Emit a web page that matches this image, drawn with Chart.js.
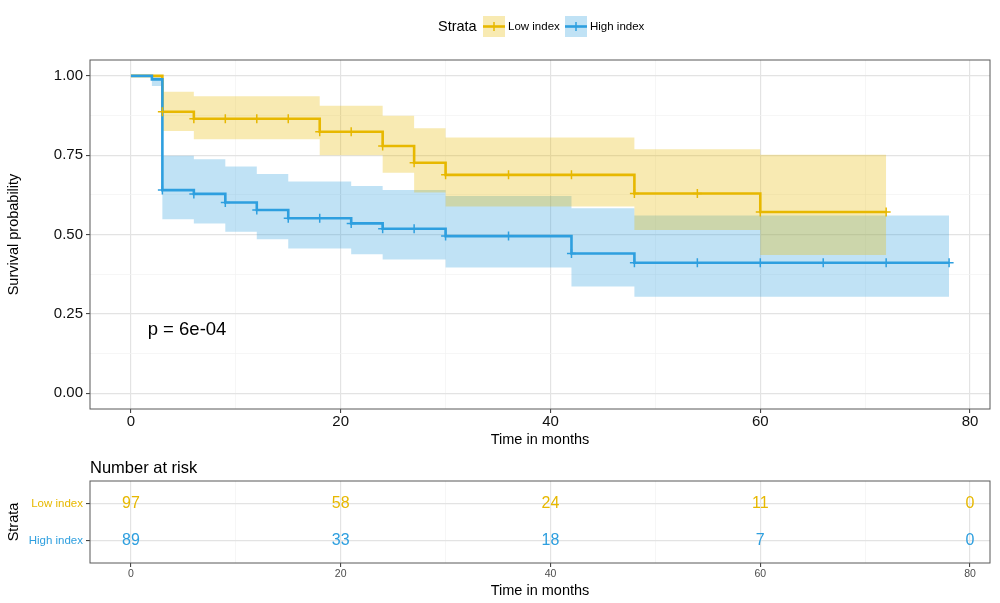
<!DOCTYPE html>
<html>
<head>
<meta charset="utf-8">
<title>Kaplan-Meier: Low index vs High index</title>
<script src="https://cdn.jsdelivr.net/npm/chart.js@4.4.1/dist/chart.umd.min.js"></script>
<style>
  html, body { margin: 0; padding: 0; background: #ffffff; }
  #wrap { position: relative; width: 1000px; height: 603px; }
  #kmChart { position: absolute; left: 0; top: 0; }
  #riskChart { position: absolute; left: 0; top: 455px; }
</style>
</head>
<body>
<div id="wrap">
  <canvas id="kmChart" width="1000" height="455"></canvas>
  <canvas id="riskChart" width="1000" height="148"></canvas>
</div>
<script>
// --- data ---
const strata = ['Low index', 'High index'];

// Low index: step times, survival, 95% CI
const lowTimes = [0, 3, 6, 18, 24, 27, 30, 48, 60, 72];
const lowSurv  = [1, 0.887, 0.865, 0.824, 0.779, 0.726, 0.688, 0.629, 0.571, 0.571];
const lowUpper = [1, 0.950, 0.936, 0.906, 0.874, 0.835, 0.806, 0.769, 0.751, 0.751];
const lowLower = [1, 0.826, 0.800, 0.750, 0.695, 0.632, 0.588, 0.514, 0.435, 0.435];
const lowCensor = [3, 6, 9, 12, 15, 18, 21, 24, 27, 30, 36, 42, 48, 54, 60, 72];

// High index
const highTimes = [0, 2, 3, 6, 9, 12, 15, 21, 24, 30, 42, 48, 78];
const highSurv  = [1, 0.989, 0.640, 0.628, 0.601, 0.577, 0.551, 0.535, 0.518, 0.495, 0.440, 0.411, 0.411];
const highUpper = [1, 1, 0.748, 0.737, 0.714, 0.691, 0.667, 0.653, 0.640, 0.621, 0.583, 0.560, 0.560];
const highLower = [1, 0.968, 0.548, 0.535, 0.509, 0.485, 0.456, 0.438, 0.421, 0.396, 0.336, 0.304, 0.304];
const highCensor = [3, 6, 9, 12, 15, 18, 21, 24, 27, 30, 36, 42, 48, 54, 60, 66, 72, 78];

// number at risk table
const riskTimes = [0, 20, 40, 60, 80];
const riskLow   = [97, 58, 24, 11, 0];
const riskHigh  = [89, 33, 18, 7, 0];

// ticks
const xTicks = [0, 10, 20, 30, 40, 50, 60, 70, 80];
const yTicks = [0, 0.125, 0.25, 0.375, 0.5, 0.625, 0.75, 0.875, 1];
const pValueText = 'p = 6e-04';

// --- styles ---
const GOLD = '#E7B800';
const BLUE = '#2E9FDF';
const GOLD_FILL = 'rgba(231, 184, 0, 0.3)';
const BLUE_FILL = 'rgba(46, 159, 223, 0.3)';
const FONT = "'Liberation Sans', Arial, Helvetica, sans-serif";

Chart.defaults.font.family = FONT;
Chart.defaults.color = '#000000';

function toPoints(times, vals) {
    return times.map((t, i) => ({ x: t, y: vals[i] }));
}

// value of the step curve at time t
function survAt(times, surv, t) {
    let v = surv[0];
    for (let i = 0; i < times.length; i++) {
        if (times[i] <= t) v = surv[i];
    }
    return v;
}

function bandLine(times, vals, color, fill) {
    return {
        data: toPoints(times, vals),
        stepped: 'before',
        borderWidth: 0,
        borderColor: 'rgba(0,0,0,0)',
        backgroundColor: color,
        pointRadius: 0,
        fill: fill,
        order: 10
    };
}

function curveLine(times, vals, color, order) {
    return {
        data: toPoints(times, vals),
        stepped: 'before',
        borderWidth: 2.6,
        borderColor: color,
        pointRadius: 0,
        fill: false,
        order: order
    };
}

function censorMarks(censor, times, surv, color, order) {
    return {
        data: censor.map(t => ({ x: t, y: survAt(times, surv, t) })),
        showLine: false,
        pointStyle: 'cross',
        pointRadius: 4.5,
        pointBorderWidth: 1.5,
        pointBorderColor: color,
        borderColor: color,
        fill: false,
        order: order
    };
}

const isMajorX = v => v % 20 === 0;
const isMajorY = v => Math.round(v * 8) % 2 === 0;

function gridOpts(isMajor) {
    return {
        color: c => (c.tick && isMajor(c.tick.value)) ? '#E3E3E3' : '#F2F2F2',
        lineWidth: c => (c.tick && isMajor(c.tick.value)) ? 1.2 : 0.7,
        tickColor: c => (c.tick && isMajor(c.tick.value)) ? '#333333' : 'rgba(0,0,0,0)',
        tickLength: 4,
        tickWidth: 1,
        drawTicks: true
    };
}

// panel border (theme_bw style)
const framePlugin = {
    id: 'frame',
    afterDatasetsDraw(chart) {
        const a = chart.chartArea;
        const ctx = chart.ctx;
        ctx.save();
        ctx.strokeStyle = '#595959';
        ctx.lineWidth = 1;
        ctx.strokeRect(a.left, a.top, a.right - a.left, a.bottom - a.top);
        ctx.restore();
    }
};

// legend at top and p-value text
const kmDecor = {
    id: 'kmDecor',
    afterDraw(chart) {
        const ctx = chart.ctx;
        ctx.save();
        ctx.textBaseline = 'middle';
        ctx.textAlign = 'left';
        ctx.fillStyle = '#000';
        ctx.font = '14.5px ' + FONT;
        ctx.fillText('Strata', 438, 27);

        const keys = [
            { x: 483, fill: GOLD_FILL, color: GOLD, label: strata[0] },
            { x: 565, fill: BLUE_FILL, color: BLUE, label: strata[1] }
        ];
        keys.forEach(k => {
            ctx.fillStyle = k.fill;
            ctx.fillRect(k.x, 16, 22, 21);
            ctx.strokeStyle = k.color;
            ctx.lineWidth = 2.6;
            ctx.beginPath();
            ctx.moveTo(k.x, 26.5);
            ctx.lineTo(k.x + 22, 26.5);
            ctx.stroke();
            ctx.lineWidth = 1.5;
            ctx.beginPath();
            ctx.moveTo(k.x + 11, 22);
            ctx.lineTo(k.x + 11, 31);
            ctx.stroke();
            ctx.fillStyle = '#000';
            ctx.font = '11.5px ' + FONT;
            ctx.fillText(k.label, k.x + 25, 27);
        });

        const xs = chart.scales.x, ys = chart.scales.y;
        ctx.font = '18.5px ' + FONT;
        ctx.fillText(pValueText, xs.getPixelForValue(1.6), ys.getPixelForValue(0.2));
        ctx.restore();
    }
};

new Chart(document.getElementById('kmChart'), {
    type: 'line',
    data: {
        datasets: [
            bandLine(lowTimes, lowUpper, GOLD_FILL, '+1'),
            bandLine(lowTimes, lowLower, GOLD_FILL, false),
            bandLine(highTimes, highUpper, BLUE_FILL, '+1'),
            bandLine(highTimes, highLower, BLUE_FILL, false),
            curveLine(lowTimes, lowSurv, GOLD, 4),
            curveLine(highTimes, highSurv, BLUE, 3),
            censorMarks(lowCensor, lowTimes, lowSurv, GOLD, 2),
            censorMarks(highCensor, highTimes, highSurv, BLUE, 1)
        ]
    },
    options: {
        responsive: false,
        animation: false,
        events: [],
        layout: { padding: { left: 0, right: 10, top: 60, bottom: 0 } },
        plugins: {
            legend: { display: false },
            tooltip: { enabled: false },
            filler: { drawTime: 'beforeDatasetsDraw' }
        },
        scales: {
            x: {
                type: 'linear',
                min: -3.9,
                max: 81.9,
                afterBuildTicks: s => { s.ticks = xTicks.map(v => ({ value: v })); },
                afterFit: s => { s.height = 46; },
                grid: gridOpts(isMajorX),
                border: { display: false },
                ticks: {
                    autoSkip: false,
                    maxRotation: 0,
                    padding: 0,
                    color: '#111',
                    font: { size: 15 },
                    callback: v => isMajorX(v) ? String(v) : ''
                },
                title: {
                    display: true,
                    text: 'Time in months',
                    font: { size: 14.5 },
                    padding: { top: 0, bottom: 6.3 }
                }
            },
            y: {
                type: 'linear',
                min: -0.05,
                max: 1.05,
                afterBuildTicks: s => { s.ticks = yTicks.map(v => ({ value: v })); },
                afterFit: s => { s.width = 90; },
                grid: gridOpts(isMajorY),
                border: { display: false },
                ticks: {
                    autoSkip: false,
                    padding: 3,
                    color: '#111',
                    font: { size: 15 },
                    callback: v => isMajorY(v) ? v.toFixed(2) : ''
                },
                title: {
                    display: true,
                    text: 'Survival probability',
                    font: { size: 14.5 },
                    padding: { top: 5.3, bottom: 0 }
                }
            }
        }
    },
    plugins: [framePlugin, kmDecor]
});

// --- risk table ---
const riskDecor = {
    id: 'riskDecor',
    afterDraw(chart) {
        const ctx = chart.ctx;
        const xs = chart.scales.x, ys = chart.scales.y;
        ctx.save();
        ctx.fillStyle = '#000';
        ctx.font = '16.5px ' + FONT;
        ctx.textAlign = 'left';
        ctx.textBaseline = 'alphabetic';
        ctx.fillText('Number at risk', chart.chartArea.left, 18);

        ctx.font = '16px ' + FONT;
        ctx.textAlign = 'center';
        ctx.textBaseline = 'middle';
        riskTimes.forEach((t, i) => {
            ctx.fillStyle = GOLD;
            ctx.fillText(String(riskLow[i]), xs.getPixelForValue(t), ys.getPixelForValue(2));
            ctx.fillStyle = BLUE;
            ctx.fillText(String(riskHigh[i]), xs.getPixelForValue(t), ys.getPixelForValue(1));
        });
        ctx.restore();
    }
};

new Chart(document.getElementById('riskChart'), {
    type: 'line',
    data: { datasets: [] },
    options: {
        responsive: false,
        animation: false,
        events: [],
        layout: { padding: { left: 0, right: 10, top: 26, bottom: 0 } },
        plugins: {
            legend: { display: false },
            tooltip: { enabled: false }
        },
        scales: {
            x: {
                type: 'linear',
                min: -3.9,
                max: 81.9,
                afterBuildTicks: s => { s.ticks = xTicks.map(v => ({ value: v })); },
                afterFit: s => { s.height = 40; },
                grid: gridOpts(isMajorX),
                border: { display: false },
                ticks: {
                    autoSkip: false,
                    maxRotation: 0,
                    padding: 1,
                    color: '#4D4D4D',
                    font: { size: 10.5 },
                    callback: v => isMajorX(v) ? String(v) : ''
                },
                title: {
                    display: true,
                    text: 'Time in months',
                    font: { size: 14.5 },
                    padding: { top: 0, bottom: 3.3 }
                }
            },
            y: {
                type: 'linear',
                min: 0.4,
                max: 2.6,
                afterBuildTicks: s => { s.ticks = [1, 2].map(v => ({ value: v })); },
                afterFit: s => { s.width = 90; },
                grid: gridOpts(() => true),
                border: { display: false },
                ticks: {
                    autoSkip: false,
                    padding: 3,
                    font: { size: 11.5 },
                    color: c => (c.tick && c.tick.value === 2) ? GOLD : BLUE,
                    callback: v => v === 2 ? strata[0] : strata[1]
                },
                title: {
                    display: true,
                    text: 'Strata',
                    font: { size: 14.5 },
                    padding: { top: 5.3, bottom: 0 }
                }
            }
        }
    },
    plugins: [framePlugin, riskDecor]
});
</script>
</body>
</html>
